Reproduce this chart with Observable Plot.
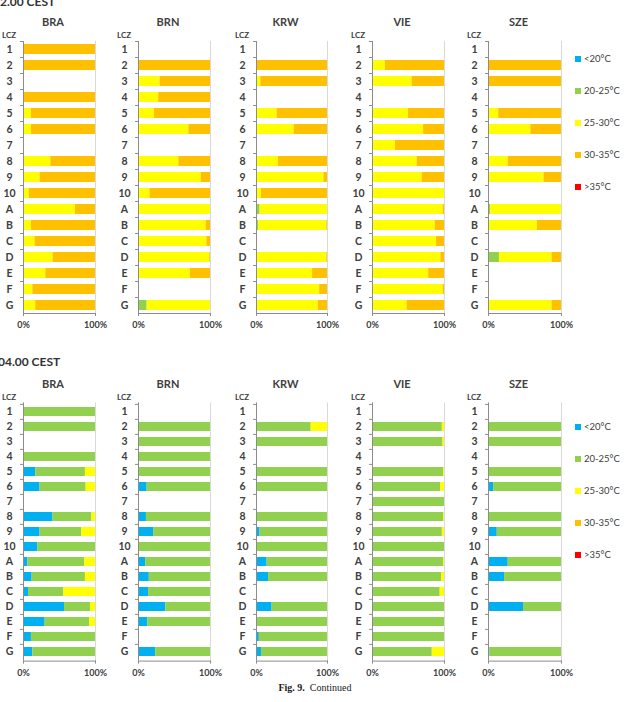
<!DOCTYPE html>
<html><head><meta charset="utf-8">
<script src="https://cdn.jsdelivr.net/npm/d3@7"></script>
<script src="https://cdn.jsdelivr.net/npm/@observablehq/plot@0.6"></script>
<style>
body{margin:0;background:#fff;}
#root{position:relative;width:630px;height:702px;overflow:hidden;font-family:Lato,"Open Sans",sans-serif;color:#404040;background:#fff;}
.abs{position:absolute;white-space:nowrap;}
.site{font-weight:bold;font-size:11px;line-height:14px;text-align:center;color:#404040;}
.lczlab{font-weight:bold;font-size:8px;line-height:10px;text-align:center;color:#404040;}
.time{font-weight:bold;font-size:12px;line-height:14px;color:#333;}
.leg{font-size:9.5px;line-height:12px;color:#404040;display:flex;align-items:center;}
.sw{width:6px;height:6px;margin-right:3px;}
.cap{font-family:"Liberation Serif",serif;font-size:10px;line-height:12px;color:#222;text-align:center;}
</style></head><body><div id="root"></div>
<script>
// ---- data ----
const lcz = ["1","2","3","4","5","6","7","8","9","10","A","B","C","D","E","F","G"];
const sites = ["BRA","BRN","KRW","VIE","SZE"];
const times = ["12.00 CEST","04.00 CEST"];
const bins = ["<20°C","20-25°C","25-30°C","30-35°C",">35°C"];
const binColors = ["#00B0F0","#92D050","#FFFF00","#FFC000","#FF0000"];
const xTicks = [0, 100];

// shares (%) per LCZ: [<20, 20-25, 25-30, 30-35, >35]; null = no station
const noonBRA = [[0,0,0,100],[0,0,0,100],null,[0,0,0,100],[0,0,11,89],[0,0,11,89],null,[0,0,38,62],[0,0,23,77],[0,0,8,92],[0,0,72,28],[0,0,11,89],[0,0,16,84],[0,0,41,59],[0,0,31,69],[0,0,13,87],[0,0,17,83]];
const noonBRN = [null,[0,0,0,100],[0,0,30,70],[0,0,28,72],[0,0,22,78],[0,0,70,30],null,[0,0,56,44],[0,0,87,13],[0,0,16,84],[0,1,99,0],[0,0,94,6],[0,0,95,5],[0,1,98,1],[0,0,72,28],null,[0,12,88,0]];
const noonKRW = [null,[0,0,0,100],[0,0,6,94],null,[0,0,29,71],[0,0,53,47],null,[0,0,31,69],[0,0,95,5],[0,0,7,93],[0,5,95,0],[0,3,96,1],null,[0,0,99,1],[0,0,79,21],[0,0,89,11],[0,0,87,13]];
const noonVIE = [null,[0,0,18,82],[0,0,55,45],null,[0,0,50,50],[0,0,71,29],[0,0,32,68],[0,0,62,38],[0,0,69,31],[0,0,100,0],[0,0,98,2],[0,0,87,13],[0,0,89,11],[0,0,95,5],[0,0,78,22],[0,0,98,2],[0,0,48,52]];
const noonSZE = [null,[0,0,0,100],[0,0,0,100],null,[0,0,14,86],[0,0,58,42],null,[0,0,27,73],[0,0,76,24],null,[0,3,97,0],[0,0,67,33],null,[0,15,72,13],null,null,[0,0,87,13]];
const nightBRA = [[0,100],[0,100],null,[0,100],[17,69,14],[23,64,13],null,[41,54,5],[23,58,19],[20,80],[6,79,15],[12,74,14],[7,49,44],[57,36,7],[30,62,8],[11,89],[13,87]];
const nightBRN = [null,[0,100],[0,100],[0,100],[0,100],[12,88],null,[11,89],[21,79],[0,100],[10,90],[15,85],[14,86],[38,62],[13,87],null,[24,76]];
const nightKRW = [null,[0,77,23],[0,100],null,[0,100],[0,100],null,[0,100],[5,95],[0,100],[15,85],[17,83],null,[22,78],[0,100],[4,96],[7,93]];
const nightVIE = [null,[0,97,3],[0,98,2],null,[0,99,1],[0,95,5],[0,100],[0,99,1],[0,97,3],[0,100],[0,99,1],[0,96,4],[0,94,6],[0,100],[0,100],[0,100],[0,83,17]];
const nightSZE = [null,[0,100],[0,100],null,[0,100],[7,93],null,[0,100],[12,88],null,[27,73],[22,78],null,[48,52],null,null,[2,98]];

const panels = [
  [noonBRA, noonBRN, noonKRW, noonVIE, noonSZE],
  [nightBRA, nightBRN, nightKRW, nightVIE, nightSZE]
];

// ---- layout ----
const axisLeft = [23, 138, 256, 372, 488];
const plotW = [72, 72, 71, 72, 73];
const mL = 23, mR = 14;
const rows = [
  {svgTop: 30, bandTop: 41, bandBottom: 313, siteY: 15, lczY: 30, timeTop: -5, timeLeft: -7, legY: 59, pad: 5},
  {svgTop: 392, bandTop: 402.4, bandBottom: 660.6, siteY: 377, lczY: 392, timeTop: 355, timeLeft: -2, legY: 427, pad: 6}
];
const legX = 575, legStep = 32;

const root = document.getElementById("root");
function div(cls, text, css) {
  const d = document.createElement("div");
  d.className = "abs " + cls;
  if (text != null) d.textContent = text;
  Object.assign(d.style, css);
  root.appendChild(d);
  return d;
}

rows.forEach((R, r) => {
  div("time", times[r], {left: R.timeLeft + "px", top: R.timeTop + "px"});
  const step = (R.bandBottom - R.bandTop) / lcz.length;
  sites.forEach((s, k) => {
    const vals = panels[r][k];
    const data = lcz.flatMap((c, i) => vals[i] ? bins.map((b, j) => ({lcz: c, bin: b, value: vals[i][j] || 0})) : []);
    const w = mL + plotW[k] + mR;
    const mT = R.bandTop - R.svgTop;
    const mB = 25;
    const h = mT + (R.bandBottom - R.bandTop) + mB;
    const chart = Plot.plot({
      width: w, height: h,
      marginLeft: mL, marginRight: mR, marginTop: mT, marginBottom: mB,
      style: {fontFamily: "Lato, 'Open Sans', sans-serif", fontSize: "10px", fontWeight: "bold", color: "#404040", background: "transparent", overflow: "visible"},
      x: {domain: [0, 100]},
      y: {domain: lcz, paddingInner: 0.375, paddingOuter: 0.1875},
      color: {domain: bins, range: binColors},
      marks: [
        Plot.ruleX([100], {stroke: "#d9d9d9"}),
        Plot.barX(data, {x: "value", y: "lcz", fill: "bin"}),
        Plot.ruleX([0], {stroke: "#8c8c8c"}),
        Plot.frame({anchor: "bottom", stroke: "#8c8c8c"}),
        Plot.axisX({ticks: xTicks, tickSize: 3, tickPadding: R.pad, tickFormat: d => d + "%", label: null, stroke: "#8c8c8c", fontSize: 9}),
        Plot.axisY({tickSize: 3, tickFormat: () => "", label: null, dy: -step / 2, stroke: "#8c8c8c"}),
        Plot.axisY({tickSize: 0, tickPadding: 14, textAnchor: "middle", label: null, fontSize: 10.5})
      ]
    });
    chart.style.position = "absolute";
    chart.style.left = (axisLeft[k] - mL) + "px";
    chart.style.top = R.svgTop + "px";
    root.appendChild(chart);
    div("site", s, {left: (axisLeft[k] - 6) + "px", width: (plotW[k]) + "px", top: R.siteY + "px"});
    div("lczlab", "LCZ", {left: (axisLeft[k] - 24) + "px", width: "20px", top: R.lczY + "px"});
  });
  bins.forEach((b, j) => {
    const d = div("leg", null, {left: legX + "px", top: (R.legY + j * legStep - 6) + "px"});
    const sw = document.createElement("span");
    sw.className = "sw"; sw.style.background = binColors[j];
    const t = document.createElement("span"); t.textContent = b;
    d.appendChild(sw); d.appendChild(t);
  });
});
const cap = div("cap", null, {left: "0px", width: "630px", top: "682px"});
cap.innerHTML = "<b>Fig. 9.</b>&nbsp; Continued";
</script></body></html>
